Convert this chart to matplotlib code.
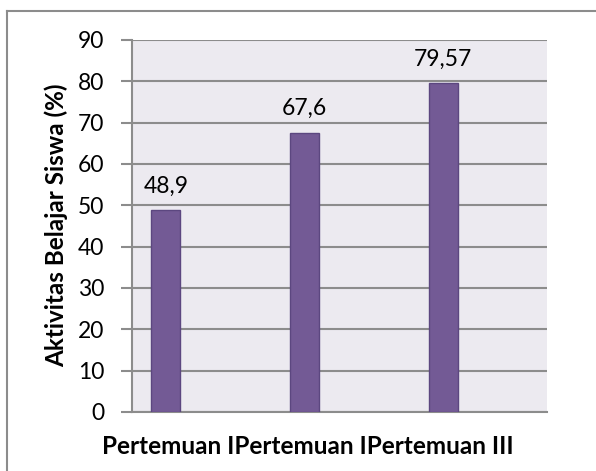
import matplotlib.pyplot as plt
from matplotlib.lines import Line2D

categories = ['Pertemuan I', 'Pertemuan II', 'Pertemuan III']
values = [48.9, 67.6, 79.57]
value_labels = ['48,9', '67,6', '79,57']
x_title = 'Pertemuan IPertemuan IPertemuan III'
y_title = 'Aktivitas Belajar Siswa (%)'

plt.rcParams['font.family'] = ['Lato', 'DejaVu Sans']

fig = plt.figure(figsize=(5.96, 4.71), dpi=100)
ax = fig.add_axes([132 / 596, 1 - 412 / 471, 415 / 596, 372 / 471])
ax.set_facecolor('#ECEAF0')

xpos = range(len(categories))
ax.bar(xpos, values, width=0.21, color='#735A95', edgecolor='#5C4780', linewidth=1, zorder=3)
for x, v, lab in zip(xpos, values, value_labels):
    ax.text(x, v + 4.2, lab, ha='center', va='baseline', fontsize=16.5, color='black')

ax.set_xlim(-0.245, 2.75)
ax.set_ylim(0, 90)
ax.set_yticks(range(0, 91, 10))
ax.set_xticks([])
ax.tick_params(axis='y', labelsize=16.5, length=8, width=1.5, color='#8C8C8C', pad=12)
ax.grid(axis='y', color='#8C8C8C', linewidth=1.5, zorder=0)
for side in ['top', 'right']:
    ax.spines[side].set_visible(False)
ax.spines['left'].set_color('#8C8C8C')
ax.spines['left'].set_linewidth(1.5)
ax.spines['bottom'].set_color('#8C8C8C')
ax.spines['bottom'].set_linewidth(1.5)

ax.set_ylabel(y_title, fontsize=17.5, fontweight='bold')
ax.yaxis.set_label_coords(-64 / 415, 0.5 - (225 - (412 + 40) / 2) / 372)
fig.text(308 / 596, 1 - 446 / 471, x_title, ha='center', va='center', fontsize=17.5, fontweight='bold')

# chart border (only left and top visible in the crop)
fig.add_artist(Line2D([7 / 596, 7 / 596], [0, 1 - 11 / 471], color='#8C8C8C', linewidth=1.5))
fig.add_artist(Line2D([7 / 596, 1], [1 - 11 / 471, 1 - 11 / 471], color='#8C8C8C', linewidth=1.5))

plt.savefig('out.png', dpi=100)
